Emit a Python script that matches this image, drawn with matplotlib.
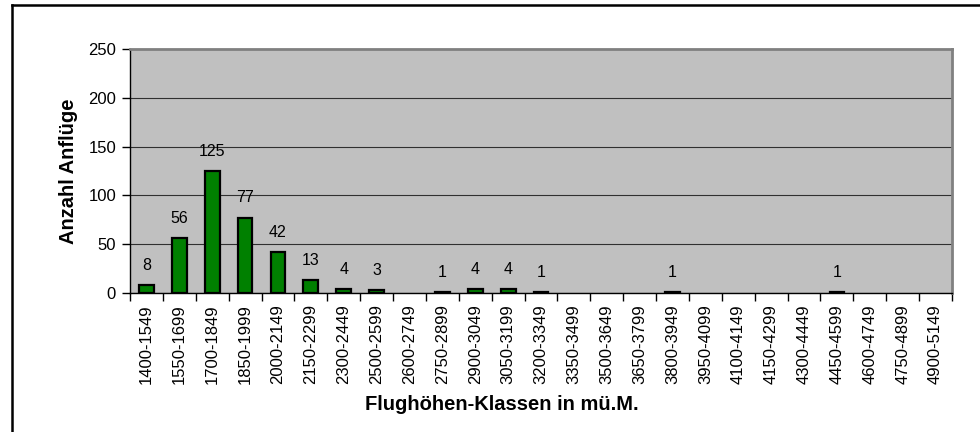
import matplotlib
matplotlib.use("Agg")
import matplotlib.pyplot as plt
from matplotlib.lines import Line2D
import numpy as np

plt.rcParams['font.family'] = ['Liberation Sans', 'DejaVu Sans']

categories = ["1400-1549", "1550-1699", "1700-1849", "1850-1999", "2000-2149",
              "2150-2299", "2300-2449", "2500-2599", "2600-2749", "2750-2899",
              "2900-3049", "3050-3199", "3200-3349", "3350-3499", "3500-3649",
              "3650-3799", "3800-3949", "3950-4099", "4100-4149", "4150-4299",
              "4300-4449", "4450-4599", "4600-4749", "4750-4899", "4900-5149"]
values = [8, 56, 125, 77, 42, 13, 4, 3, 0, 1, 4, 4, 1, 0, 0, 0, 1, 0, 0, 0, 0, 1, 0, 0, 0]
y_ticks = [0, 50, 100, 150, 200, 250]

W, H = 980, 432
fig = plt.figure(figsize=(W / 100, H / 100), dpi=100)
fig.patch.set_facecolor('white')

ax = fig.add_axes([130 / W, 1 - 293 / H, (952 - 130) / W, (293 - 49) / H])
ax.set_facecolor('#C0C0C0')

x = np.arange(len(categories))
nz = [i for i, v in enumerate(values) if v > 0]
ax.bar([x[i] for i in nz], [values[i] for i in nz], width=0.45, color='#008000',
       edgecolor='black', linewidth=1.6, zorder=3)

for xi, v in zip(x, values):
    if v > 0:
        ax.annotate(str(v), (xi, v), xytext=(0, 9), textcoords='offset points',
                    ha='center', va='bottom', fontsize=11.5, color='black')

ax.set_xlim(-0.5, len(categories) - 0.5)
ax.set_ylim(0, 250)
ax.set_yticks(y_ticks)
ax.yaxis.grid(True, color='#000000', linewidth=0.8, alpha=0.75, zorder=1)
ax.set_axisbelow(True)

ax.set_xticks(np.arange(len(categories) + 1) - 0.5)
ax.set_xticklabels([])
ax.set_xticks(x, minor=True)
ax.set_xticklabels(categories, minor=True, rotation=90, fontsize=12)
ax.tick_params(axis='x', which='major', direction='out', length=6, width=1)
ax.tick_params(axis='x', which='minor', length=0, pad=8)
ax.tick_params(axis='y', direction='out', length=6, width=1, labelsize=12, pad=4)

for s in ['left', 'bottom']:
    ax.spines[s].set_color('black')
    ax.spines[s].set_linewidth(1.0)
for s in ['top', 'right']:
    ax.spines[s].set_color('#808080')
    ax.spines[s].set_linewidth(2.0)

fig.text(68 / W, 1 - 171 / H, 'Anzahl Anflüge', rotation=90, ha='center', va='center',
         fontsize=14.5, fontweight='bold')
fig.text(502 / W, 1 - 405 / H, 'Flughöhen-Klassen in mü.M.', ha='center', va='center',
         fontsize=14.5, fontweight='bold')

# outer chart frame (left and top edges visible)
fig.add_artist(Line2D([12 / W, 12 / W], [0, 1 - 5 / H], color='black', linewidth=1.8,
                      transform=fig.transFigure))
fig.add_artist(Line2D([12 / W, 1], [1 - 5 / H, 1 - 5 / H], color='black', linewidth=1.8,
                      transform=fig.transFigure))

fig.savefig('out.png', dpi=100)
